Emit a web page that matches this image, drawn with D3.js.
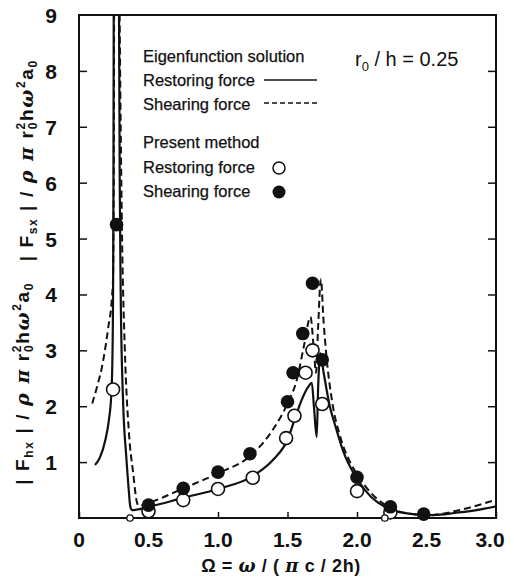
<!DOCTYPE html>
<html><head><meta charset="utf-8">
<script src="https://cdn.jsdelivr.net/npm/d3@7"></script>
<style>
html,body{margin:0;padding:0;background:#fff;}
text{font-family:"Liberation Sans",Arial,sans-serif;fill:#111;}
</style></head>
<body>
<svg id="c" width="514" height="577"></svg>
<script>
// ---- data ----
const xTicks = [0, 0.5, 1.0, 1.5, 2.0, 2.5, 3.0];
const xTickLabels = ["0", "0.5", "1.0", "1.5", "2.0", "2.5", "3.0"];
const yTicks = [1, 2, 3, 4, 5, 6, 7, 8, 9];
const yTickLabels = ["1", "2", "3", "4", "5", "6", "7", "8", "9"];

// Eigenfunction solution – restoring force (solid)
const restoringA = [[0.115,0.95],[0.15,1.08],[0.19,1.4],[0.215,1.75],[0.232,2.2],[0.24,2.8],[0.245,4],[0.248,6],[0.25,9.6]];
const restoringB = [[0.287,9.6],[0.293,6],[0.3,4],[0.317,2.1],[0.34,1.1],[0.358,0.5],[0.368,0.22],[0.38,0.14],[0.5,0.2],[0.75,0.36],[1.0,0.52],[1.25,0.75],[1.4,1.05],[1.5,1.4],[1.55,1.75],[1.6,2.1],[1.65,2.35],[1.675,2.42],[1.69,2.0],[1.71,1.45],[1.72,2.3],[1.735,2.95],[1.76,2.6],[1.8,2.05],[1.85,1.6],[1.9,1.2],[2.0,0.7],[2.1,0.38],[2.2,0.2],[2.3,0.11],[2.4,0.07],[2.5,0.05],[2.6,0.06],[2.7,0.09],[2.8,0.12],[2.9,0.16],[3.0,0.21]];
// Eigenfunction solution – shearing force (dashed)
const shearingA = [[0.095,2.05],[0.13,2.35],[0.165,2.7],[0.21,3.4],[0.237,3.95],[0.245,4.3],[0.25,6],[0.253,9.6]];
const shearingB = [[0.29,9.6],[0.3,7],[0.31,5],[0.33,3],[0.36,1.5],[0.39,0.8],[0.415,0.3],[0.43,0.22],[0.5,0.27],[0.75,0.53],[1.0,0.8],[1.25,1.15],[1.4,1.6],[1.5,2.05],[1.57,2.5],[1.62,3.1],[1.665,3.6],[1.69,3.0],[1.705,2.6],[1.72,3.4],[1.74,4.27],[1.76,3.5],[1.78,2.9],[1.82,2.1],[1.88,1.45],[1.95,1.0],[2.0,0.78],[2.1,0.45],[2.2,0.24],[2.3,0.12],[2.4,0.07],[2.5,0.05],[2.6,0.07],[2.7,0.12],[2.8,0.18],[2.9,0.25],[3.0,0.33]];

// Present method – restoring force (open circles)
const presentRestoring = [[0.245,2.3],[0.5,0.12],[0.75,0.32],[1.0,0.52],[1.25,0.72],[1.49,1.43],[1.55,1.83],[1.63,2.6],[1.68,3.0],[1.75,2.04],[2.0,0.48],[2.24,0.1]];
const presentRestoringSmall = [[0.367,0],[2.2,0]];
// Present method – shearing force (filled circles)
const presentShearing = [[0.27,5.25],[0.5,0.23],[0.75,0.53],[1.0,0.82],[1.23,1.15],[1.5,2.08],[1.54,2.6],[1.61,3.3],[1.68,4.2],[1.75,2.83],[2.0,0.73],[2.24,0.2],[2.48,0.07]];

const legendItems = ["Eigenfunction solution","Restoring force","Shearing force","Present method","Restoring force","Shearing force"];

// ---- layout ----
const svg = d3.select("#c");
const X0 = 79, X1 = 496, Y0 = 518, Y1 = 15;
const x = d3.scaleLinear().domain([0,3]).range([X0,X1]);
const y = d3.scaleLinear().domain([0,9]).range([Y0,Y1]);

svg.append("clipPath").attr("id","clip").append("rect")
  .attr("x",X0).attr("y",Y1).attr("width",X1-X0).attr("height",Y0-Y1);

// frame
svg.append("rect").attr("x",X0).attr("y",Y1).attr("width",X1-X0).attr("height",Y0-Y1)
  .attr("fill","none").attr("stroke","#111").attr("stroke-width",2);

// axes (ticks inward)
const gx = svg.append("g").attr("transform",`translate(0,${Y0})`)
  .call(d3.axisTop(x).tickValues(xTicks).tickSize(6).tickFormat(""));
const gy = svg.append("g").attr("transform",`translate(${X0},0)`)
  .call(d3.axisRight(y).tickValues(yTicks.slice(0,-1)).tickSize(8).tickFormat(""));
const gy2 = svg.append("g").attr("transform",`translate(${X1},0)`)
  .call(d3.axisLeft(y).tickValues(yTicks.slice(0,-1)).tickSize(8).tickFormat(""));
[gx,gy,gy2].forEach(g=>{g.select(".domain").remove(); g.selectAll("line").attr("stroke","#111").attr("stroke-width",1.5);});

// tick labels
svg.append("g").selectAll("text").data(xTicks).join("text")
  .attr("x",(d,i)=> i===xTicks.length-1 ? x(d)-6 : x(d)).attr("y",547)
  .attr("text-anchor","middle").attr("font-size",21).attr("font-weight","bold")
  .text((d,i)=>xTickLabels[i]);
svg.append("g").selectAll("text").data(yTicks).join("text")
  .attr("x",57).attr("y",d=>y(d)+8)
  .attr("text-anchor","end").attr("font-size",21).attr("font-weight","bold")
  .text((d,i)=>yTickLabels[i]);

// axis titles
svg.append("text").attr("x",281).attr("y",572).attr("text-anchor","middle")
  .attr("font-size",18).attr("font-weight","bold").attr("letter-spacing",0.6)
  .html('Ω = <tspan font-style="italic" font-family="DejaVu Serif">ω</tspan> / ( <tspan font-style="italic" font-family="DejaVu Serif">π</tspan> c / 2h)');

const yl = svg.append("text").attr("transform","translate(29,272) rotate(-90)")
  .attr("text-anchor","middle").attr("font-size",19).attr("font-weight","bold")
  .attr("letter-spacing",1.6);
function addLabel(sub){
  yl.append("tspan").text("| F");
  yl.append("tspan").attr("font-size",12).attr("dy",4).text(sub);
  yl.append("tspan").attr("dy",-4).text(" | / ");
  yl.append("tspan").attr("font-family","DejaVu Serif").attr("font-style","italic").text("ρ π");
  yl.append("tspan").text(" r");
  yl.append("tspan").attr("font-size",12).attr("dy",-8).text("2");
  yl.append("tspan").attr("font-size",12).attr("dx",-8).attr("dy",12).text("0");
  yl.append("tspan").attr("dy",-4).text("h");
  yl.append("tspan").attr("font-family","DejaVu Serif").attr("font-style","italic").text("ω");
  yl.append("tspan").attr("font-size",12).attr("dy",-8).text("2");
  yl.append("tspan").attr("dy",8).text("a");
  yl.append("tspan").attr("font-size",12).attr("dy",4).text("0");
  yl.append("tspan").attr("dy",-4).text("");
}
addLabel("hx");
yl.append("tspan").text("\u00a0\u00a0\u00a0");
addLabel("sx");

// curves
const line = d3.line().x(d=>x(d[0])).y(d=>y(d[1])).curve(d3.curveMonotoneX);
const cg = svg.append("g").attr("clip-path","url(#clip)");
[restoringA, restoringB].forEach(s=>cg.append("path").attr("d",line(s))
  .attr("fill","none").attr("stroke","#111").attr("stroke-width",2.2));
[shearingA, shearingB].forEach(s=>cg.append("path").attr("d",line(s))
  .attr("fill","none").attr("stroke","#111").attr("stroke-width",2).attr("stroke-dasharray","7,4"));

// points
svg.append("g").selectAll("circle").data(presentRestoring).join("circle")
  .attr("cx",d=>x(d[0])).attr("cy",d=>y(d[1])).attr("r",6.5)
  .attr("fill","#fff").attr("stroke","#111").attr("stroke-width",1.6);
svg.append("g").selectAll("circle").data(presentRestoringSmall).join("circle")
  .attr("cx",d=>x(d[0])).attr("cy",d=>y(d[1])).attr("r",3.2)
  .attr("fill","#fff").attr("stroke","#111").attr("stroke-width",1.3);
svg.append("g").selectAll("circle").data(presentShearing).join("circle")
  .attr("cx",d=>x(d[0])).attr("cy",d=>y(d[1])).attr("r",6.8).attr("fill","#111");

// legend
const lg = svg.append("g").attr("font-size",16.5).attr("stroke","#111").attr("stroke-width",0.25);
const lx = 143, ly = [62, 86, 110, 148, 173, 197];
legendItems.forEach((t,i)=>lg.append("text").attr("x",lx).attr("y",ly[i]).text(t));
const lg2 = svg.append("g");
lg2.append("line").attr("x1",264).attr("x2",317).attr("y1",80).attr("y2",80).attr("stroke","#111").attr("stroke-width",1.6);
lg2.append("line").attr("x1",264).attr("x2",317).attr("y1",103).attr("y2",103).attr("stroke","#111").attr("stroke-width",1.4).attr("stroke-dasharray","5,3");
lg2.append("circle").attr("cx",279).attr("cy",168).attr("r",6).attr("fill","#fff").attr("stroke","#111").attr("stroke-width",1.5);
lg2.append("circle").attr("cx",279).attr("cy",192).attr("r",6.5).attr("fill","#111");

// parameter label
const pl = svg.append("text").attr("x",355).attr("y",66).attr("font-size",20);
pl.append("tspan").text("r");
pl.append("tspan").attr("font-size",13).attr("dy",5).text("0");
pl.append("tspan").attr("dy",-5).text(" / h = 0.25");
</script>
</body></html>
